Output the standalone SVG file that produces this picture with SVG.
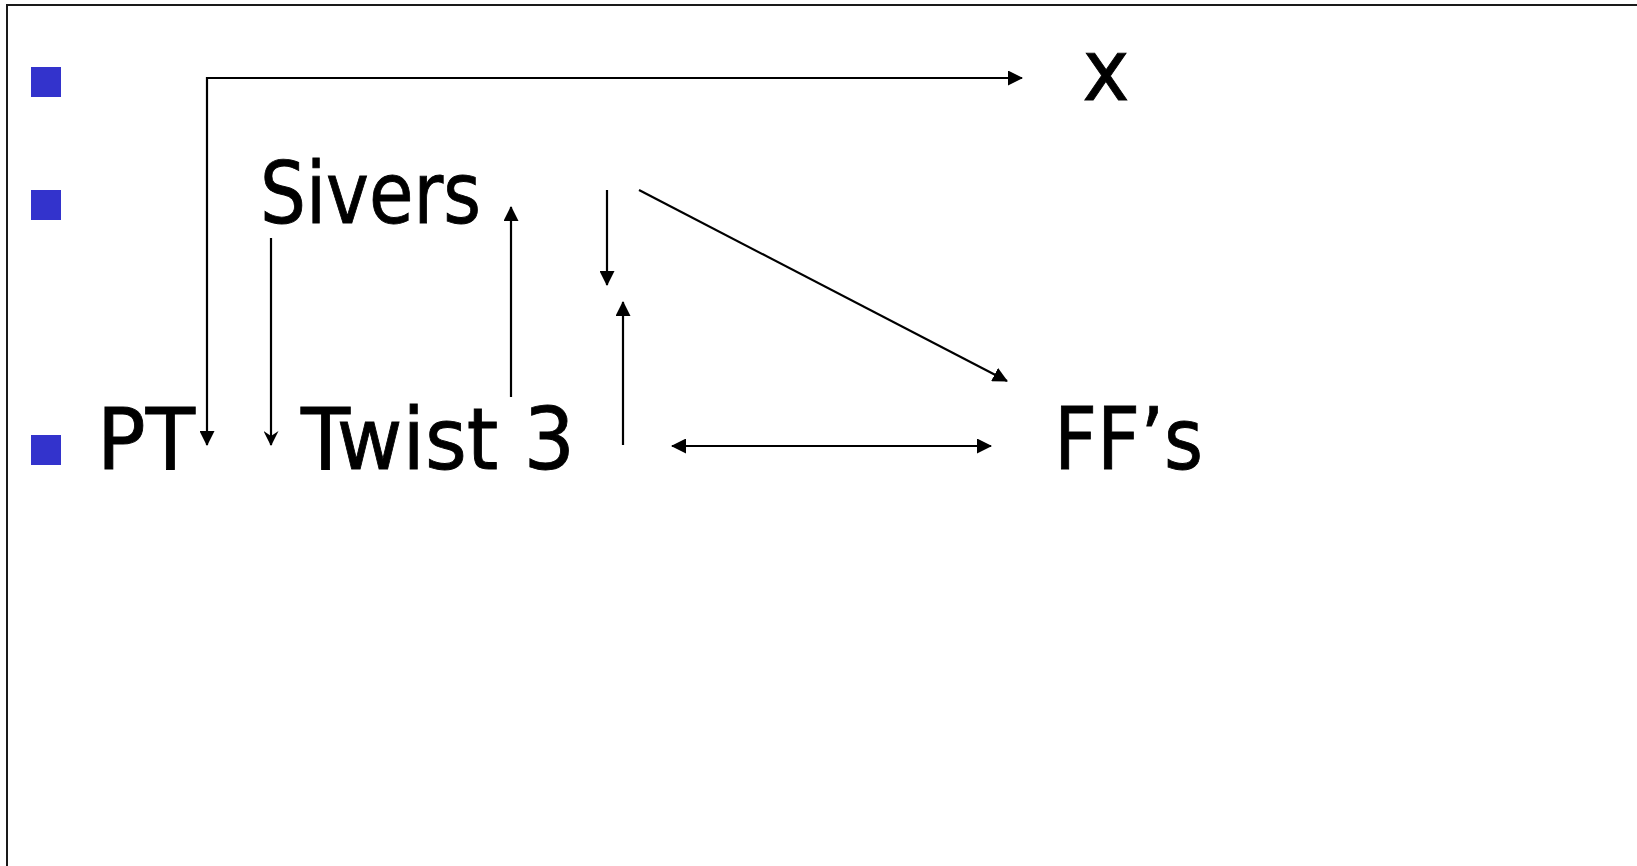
<svg xmlns="http://www.w3.org/2000/svg" width="1637" height="866" viewBox="0 0 1637 866">
<style>
.lbl{font-family:"DejaVu Sans","Verdana",sans-serif;font-size:86px;fill:#000;stroke:#000;stroke-width:0.9}
.bul{fill:#3333CC}
.con{fill:none;stroke:#000;stroke-width:2.2}
</style>
<defs>
<marker id="tri" markerUnits="userSpaceOnUse" viewBox="0 0 15 15" markerWidth="15" markerHeight="15" refX="14" refY="7.5" orient="auto-start-reverse">
<path d="M0,0 L15,7.5 L0,15 z" fill="#000"/>
</marker>
<marker id="stealth" markerUnits="userSpaceOnUse" viewBox="0 0 15 15" markerWidth="15" markerHeight="15" refX="14" refY="7.5" orient="auto">
<path d="M0,0 L15,7.5 L0,15 L5,7.5 z" fill="#000"/>
</marker>
</defs>
<rect width="1637" height="866" fill="#fff"/>
<path d="M7,866 V5 H1637" fill="none" stroke="#1a1a1a" stroke-width="2"/>
<g id="bullets">
<rect class="bul" x="31" y="67" width="30" height="30"/>
<rect class="bul" x="31" y="190" width="30" height="30"/>
<rect class="bul" x="31" y="435" width="30" height="30"/>
</g>
<g id="node-x"><text class="lbl" x="1082.6" y="100" textLength="47" lengthAdjust="spacingAndGlyphs">x</text></g>
<g id="node-sivers"><text class="lbl" x="260" y="223" textLength="221" lengthAdjust="spacingAndGlyphs">Sivers</text></g>
<g id="node-pt"><text class="lbl" x="97" y="469" textLength="98" lengthAdjust="spacingAndGlyphs">PT</text></g>
<g id="node-twist3"><text class="lbl" x="301" y="469" textLength="274" lengthAdjust="spacingAndGlyphs">Twist 3</text></g>
<g id="node-ffs"><text class="lbl" x="1054" y="469" textLength="149" lengthAdjust="spacingAndGlyphs">FF’s</text></g>
<g id="connectors">
<path class="con" d="M1022,78 H207 V445" marker-start="url(#tri)" marker-end="url(#tri)"/>
<path class="con" d="M271,238 V445" stroke-width="1.6" marker-end="url(#stealth)"/>
<path class="con" d="M511,397 V207" marker-end="url(#tri)"/>
<path class="con" d="M607,190 V285" marker-end="url(#tri)"/>
<path class="con" d="M623,445 V302" marker-end="url(#tri)"/>
<path class="con" d="M639,190 L1007,381" marker-end="url(#tri)"/>
<path class="con" d="M672,446 H991" marker-start="url(#tri)" marker-end="url(#tri)"/>
</g>
</svg>
